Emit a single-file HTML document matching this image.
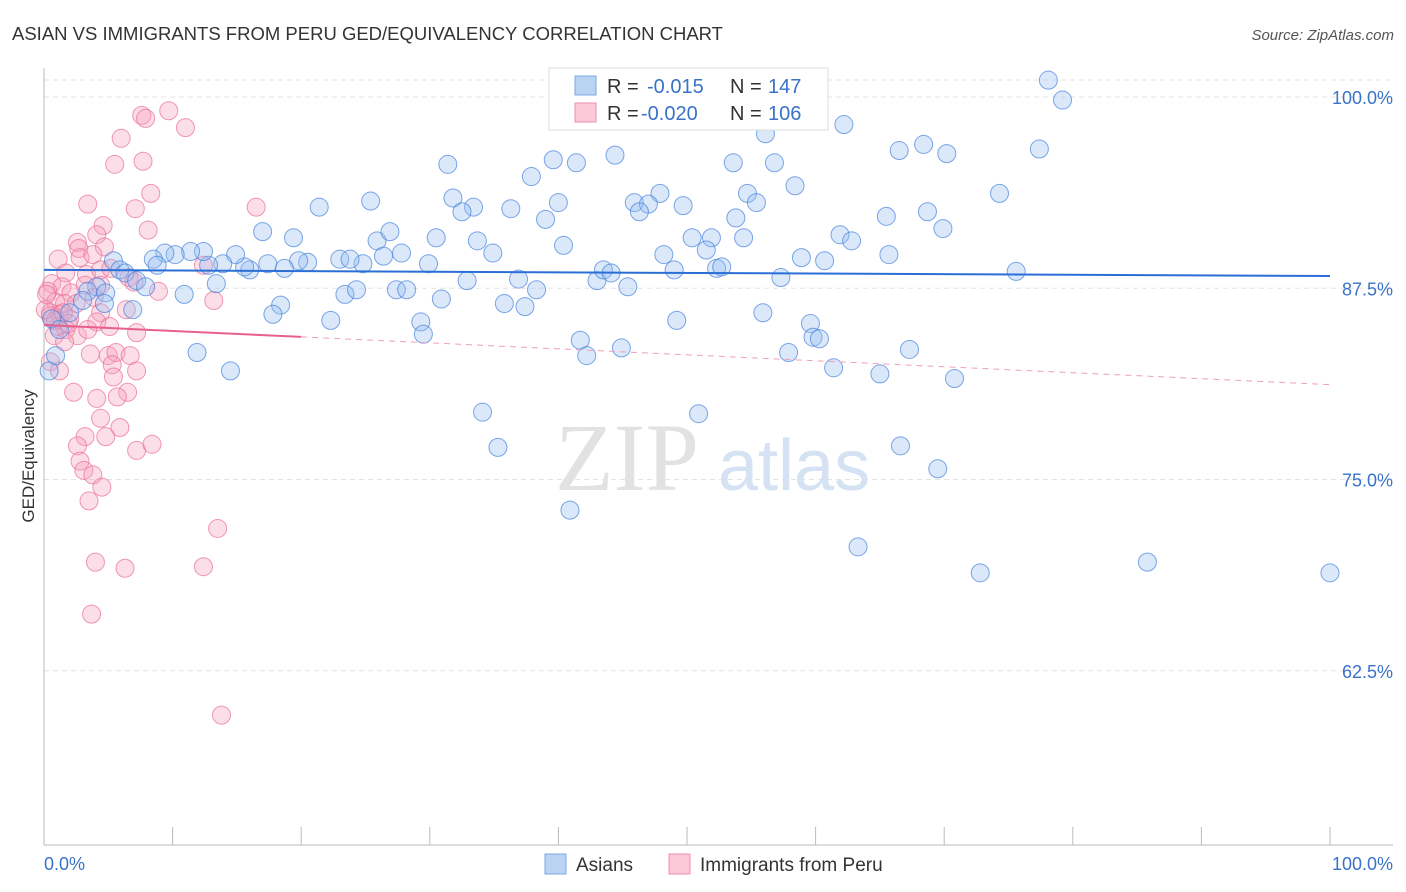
<!DOCTYPE html>
<html><head><meta charset="utf-8"><style>
body{margin:0;background:#fff;font-family:"Liberation Sans",sans-serif;}
svg{display:block}
</style></head><body>
<svg id="chart" width="1406" height="892">
<text x="12" y="40" font-size="18.5" fill="#333">ASIAN VS IMMIGRANTS FROM PERU GED/EQUIVALENCY CORRELATION CHART</text>
<text x="1394" y="40" font-size="15" fill="#555" font-style="italic" text-anchor="end">Source: ZipAtlas.com</text>
<text x="34" y="456" font-size="17" fill="#333" transform="rotate(-90 34 456)" text-anchor="middle">GED/Equivalency</text>
<g id="grid"></g>
<text x="555" y="490" font-size="96" fill="#e2e2e2" font-family="Liberation Serif,serif">ZIP</text>
<text x="718" y="490" font-size="72" fill="#d4e2f3">atlas</text>
<g id="pts"></g>
<g id="trend"></g>
<g>
<rect x="549" y="68" width="279" height="62" fill="#fff" stroke="#ddd"/>
<rect x="575" y="76" width="21" height="19" fill="#b9d3f3" stroke="#7aaae6"/>
<rect x="575" y="103" width="21" height="19" fill="#fbc9d7" stroke="#ec90ab"/>
<text x="607" y="93" font-size="20" fill="#333">R = </text><text x="647" y="93" font-size="20" fill="#3a72c8">-0.015</text>
<text x="730" y="93" font-size="20" fill="#333">N = </text><text x="768" y="93" font-size="20" fill="#3a72c8">147</text>
<text x="607" y="120" font-size="20" fill="#333">R = </text><text x="641" y="120" font-size="20" fill="#3a72c8">-0.020</text>
<text x="730" y="120" font-size="20" fill="#333">N = </text><text x="768" y="120" font-size="20" fill="#3a72c8">106</text>
</g>
<g>
<rect x="545" y="854" width="21" height="20" fill="#b9d3f3" stroke="#7aaae6"/>
<text x="576" y="871" font-size="19" fill="#333">Asians</text>
<rect x="669" y="854" width="21" height="20" fill="#fbc9d7" stroke="#ec90ab"/>
<text x="700" y="871" font-size="19" fill="#333">Immigrants from Peru</text>
</g>
</svg>
<script>
const yTicks=[100,87.5,75,62.5];
const yTickLabels=["100.0%","87.5%","75.0%","62.5%"];
const xTickLabels=["0.0%","100.0%"];
const asianX=[78.1,79.2,56.1,62.2,44.4,39.6,41.4,31.4,37.9,53.6,56.8,66.5,68.4,70.2,77.4,58.4,74.3,54.7,55.4,47.9,45.9,47.0,46.3,49.7,31.8,33.4,32.5,36.3,40.0,39.0,25.4,21.4,53.8,65.5,68.7,69.9,61.9,62.8,50.4,51.9,54.4,40.4,33.7,30.5,25.9,26.9,19.4,17.0,27.8,26.4,34.9,29.9,24.8,23.0,23.8,20.5,19.8,17.4,18.7,16.0,15.6,14.9,13.9,12.8,12.4,11.4,10.2,9.4,8.5,8.8,5.4,5.9,6.3,7.2,7.9,4.1,3.4,3.0,4.8,4.7,0.6,2.0,1.2,10.9,13.4,18.4,17.8,22.3,23.4,24.3,27.4,28.2,30.9,32.9,36.9,35.8,37.4,38.3,43.0,43.5,44.1,45.4,48.2,49.0,51.5,52.3,52.7,57.3,58.9,60.7,65.7,75.6,49.2,55.9,59.6,59.8,60.3,41.7,42.2,44.9,57.9,61.4,65.0,67.3,70.8,14.5,11.9,29.3,29.5,34.1,35.3,50.9,66.6,69.5,40.9,63.3,72.8,85.8,100.0,6.9,0.4,0.9];
const asianY=[101.1,99.8,97.6,98.2,96.2,95.9,95.7,95.6,94.8,95.7,95.7,96.5,96.9,96.3,96.6,94.2,93.7,93.7,93.1,93.7,93.1,93.0,92.5,92.9,93.4,92.8,92.5,92.7,93.1,92.0,93.2,92.8,92.1,92.2,92.5,91.4,91.0,90.6,90.8,90.8,90.8,90.3,90.6,90.8,90.6,91.2,90.8,91.2,89.8,89.6,89.8,89.1,89.1,89.4,89.4,89.2,89.3,89.1,88.8,88.7,88.9,89.7,89.1,89.0,89.9,89.9,89.7,89.8,89.4,89.0,89.3,88.7,88.5,88.0,87.6,87.6,87.3,86.7,87.2,86.5,85.5,85.9,84.8,87.1,87.8,86.4,85.8,85.4,87.1,87.4,87.4,87.4,86.8,88.0,88.1,86.5,86.3,87.4,88.0,88.7,88.5,87.6,89.7,88.7,90.0,88.8,88.9,88.2,89.5,89.3,89.7,88.6,85.4,85.9,85.2,84.3,84.2,84.1,83.1,83.6,83.3,82.3,81.9,83.5,81.6,82.1,83.3,85.3,84.5,79.4,77.1,79.3,77.2,75.7,73.0,70.6,68.9,69.6,68.9,86.1,82.1,83.1];
const peruX=[7.6,9.7,7.9,11.0,6.0,5.5,7.7,8.3,3.4,7.1,4.6,4.1,16.5,8.1,2.6,2.7,4.7,1.1,2.8,3.8,1.7,3.3,4.4,5.2,6.6,7.0,0.6,1.4,0.3,2.1,3.2,4.4,8.9,13.2,0.9,1.6,2.5,3.9,0.5,1.2,2.0,1.1,1.7,4.4,6.4,4.1,5.1,7.2,0.8,2.6,3.4,1.6,3.6,5.0,5.6,6.7,0.5,1.2,5.3,5.4,7.2,2.3,6.5,4.1,5.7,4.4,5.9,3.2,4.8,7.2,8.4,2.6,2.8,3.1,3.8,4.5,3.5,4.0,6.3,3.7,12.4,13.5,13.8,12.4,0.5,0.9,0.1,0.2,1.5,1.9];
const peruY=[98.8,99.1,98.6,98.0,97.3,95.6,95.8,93.7,93.0,92.7,91.6,91.0,92.8,91.3,90.5,90.1,90.2,89.4,89.5,89.7,88.5,88.4,88.7,88.8,88.2,87.9,87.8,87.6,87.3,87.2,87.7,87.7,87.3,86.7,86.6,86.5,86.5,86.9,85.9,85.8,85.5,85.0,84.8,85.9,86.1,85.3,85.0,84.6,84.4,84.4,84.8,84.0,83.2,83.1,83.3,83.1,82.7,82.1,82.5,81.7,82.1,80.7,80.7,80.3,80.4,79.0,78.4,77.8,77.8,76.9,77.3,77.2,76.2,75.6,75.3,74.5,73.6,69.6,69.2,66.2,69.3,71.8,59.6,89.0,85.7,85.4,86.1,87.1,85.9,85.2];
const asianTrend=[88.7,88.3];
const peruTrend=[85.1,81.2];
const NS="http://www.w3.org/2000/svg";
const X0=44,X1=1330,Y100=97,PX=15.3;
const xs=v=>X0+(X1-X0)*v/100;
const ys=v=>Y100+(100-v)*PX;
function mk(t,a,p){const e=document.createElementNS(NS,t);for(const k in a)e.setAttribute(k,a[k]);p.appendChild(e);return e;}
const grid=document.getElementById('grid');
mk('line',{x1:44,y1:80,x2:1393,y2:80,stroke:'#e3e3e3','stroke-dasharray':'5,4'},grid);
yTicks.forEach((t,i)=>{
 const l=mk('line',{x1:44,y1:ys(t),x2:1393,y2:ys(t),stroke:'#e3e3e3','stroke-dasharray':'5,4'},grid);
 
 
 const tx=mk('text',{x:1393,y:ys(t)+7,'font-size':18,fill:'#3a72c8','text-anchor':'end'},grid);
 tx.textContent=yTickLabels[i];
 
 
});
mk('line',{x1:44,y1:68,x2:44,y2:845,stroke:'#bbb'},grid);
mk('line',{x1:44,y1:845,x2:1393,y2:845,stroke:'#bbb'},grid);
for(let i=0;i<=10;i++){const t=mk('line',{x1:xs(i*10),y1:827,x2:xs(i*10),y2:845,stroke:'#bbb'},grid);
 
 }
[[0,'start',44],[100,'end',1393]].forEach((d,i)=>{const tx=mk('text',{x:d[2],y:870,'font-size':18,fill:'#3a72c8','text-anchor':d[1]},grid);tx.textContent=xTickLabels[i];
 
 });
const pts=document.getElementById('pts');
peruX.forEach((x,i)=>{const c=mk('circle',{cx:xs(x),cy:ys(peruY[i]),r:9,fill:'rgba(246,160,188,0.35)',stroke:'rgba(234,110,150,0.7)','stroke-width':1},pts);
 
 });
asianX.forEach((x,i)=>{const c=mk('circle',{cx:xs(x),cy:ys(asianY[i]),r:9,fill:'rgba(150,190,240,0.35)',stroke:'rgba(70,130,220,0.7)','stroke-width':1},pts);
 
 });
const tr=document.getElementById('trend');
const py=x=>peruTrend[0]+(peruTrend[1]-peruTrend[0])*x/100;
const a=mk('line',{x1:xs(0),y1:ys(asianTrend[0]),x2:xs(100),y2:ys(asianTrend[1]),stroke:'#2b6fd6','stroke-width':2},tr);


const p1=mk('line',{x1:xs(0),y1:ys(py(0)),x2:xs(20),y2:ys(py(20)),stroke:'#e8608a','stroke-width':2},tr);


const p2=mk('line',{x1:xs(20),y1:ys(py(20)),x2:xs(100),y2:ys(py(100)),stroke:'#eea0b8','stroke-width':1,'stroke-dasharray':'6,5'},tr);


</script>
</body></html>
